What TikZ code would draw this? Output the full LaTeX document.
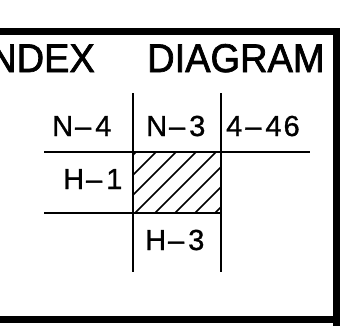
\documentclass[tikz,border=0pt]{standalone}
\usepackage{fontspec}
\setmainfont{Liberation Sans}
\newfontfamily\cadtitle[FakeStretch=0.95,FakeBold=1.8]{Liberation Sans}
\newfontfamily\cadlbl[FakeBold=1.0]{Liberation Sans}
\begin{document}
\begin{tikzpicture}[x=1pt,y=-1pt,
  frame/.style={line width=7pt,line cap=butt},
  grid/.style={line width=2pt},
  hatch/.style={line width=1.5pt},
  title/.style={inner sep=0pt,font=\cadtitle\fontsize{40}{44}\selectfont},
  lbl/.style={inner sep=0pt,font=\cadlbl\fontsize{29}{32}\selectfont}]
\useasboundingbox (0,0) rectangle (346,325);
\clip (0,0) rectangle (346,325);
% frame
\draw[frame] (-5,31.5) -- (339.5,31.5);
\draw[frame] (336,28) -- (336,330);
\draw[frame] (-5,319) -- (339.5,319);
% title
\node[title,anchor=base east] (t1) at (95,72) {INDEX};
\node[title,anchor=base west] (t2) at (147,72) {DIAGRAM};
% hatched cell
\begin{scope}
\clip (133,152) rectangle (221,213);
\foreach \k in {0,...,8} {
  \draw[hatch] (215-20*\k,213) -- (215-20*\k+61,152);
}
\end{scope}
% grid lines
\draw[grid] (133,93) -- (133,272);
\draw[grid] (221,93) -- (221,272);
\draw[grid] (44,152) -- (310,152);
\draw[grid] (44,213) -- (221,213);
% labels
\node[lbl,anchor=base west] (n4) at (52,136) {N\kern2pt–\kern4pt4};
\node[lbl,anchor=base west] (n3) at (146,136) {N\kern2pt–\kern4pt3};
\node[lbl,anchor=base west] (n446) at (226,136) {4\kern3pt–\kern4pt4\kern2pt6};
\node[lbl,anchor=base west] (h1) at (63,189) {H\kern2pt–\kern4pt1};
\node[lbl,anchor=base west] (h3) at (145,250) {H\kern2pt–\kern4pt3};
\end{tikzpicture}
\end{document}
